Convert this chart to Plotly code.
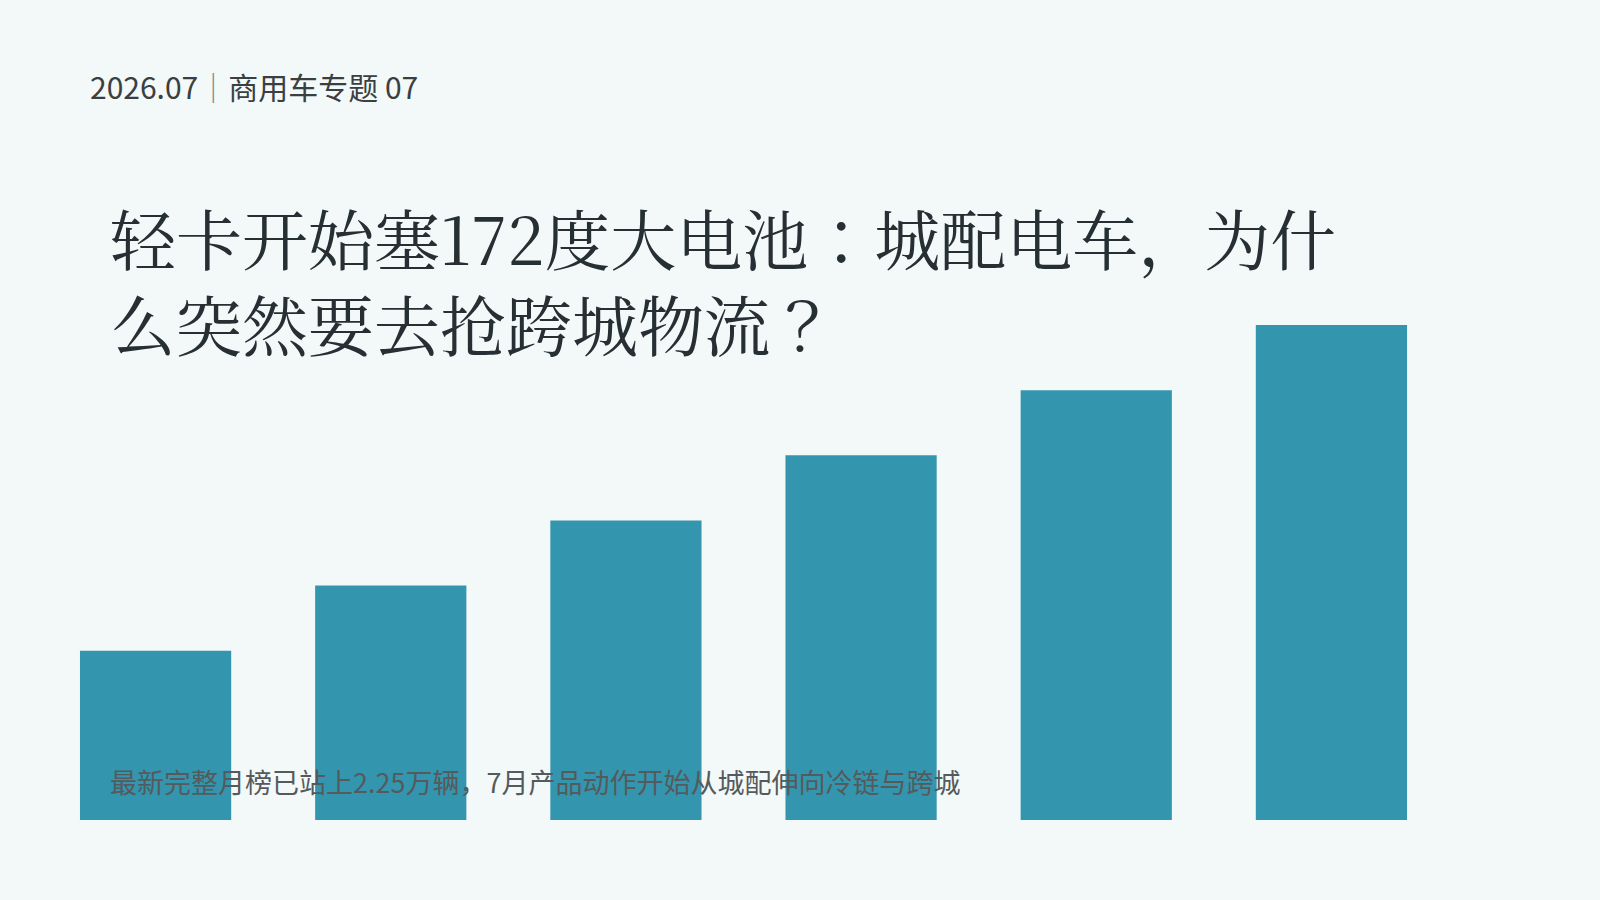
import plotly.graph_objects as go

# datos (ejes ocultos)
categorias = ["1月", "2月", "3月", "4月", "5月", "6月"]
valores = [2.6, 3.6, 4.6, 5.6, 6.6, 7.6]

cabecera = "2026.07<span style='color:#80888c'>｜</span>商用车专题 07"
titulo = "轻卡开始塞172度大电池：城配电车，为什<br>么突然要去抢跨城物流？"
subtitulo = "最新完整月榜已站上2.25万辆，7月产品动作开始从城配伸向冷链与跨城"

fondo = "#F3F8F8"
color_barra = "#3396AE"

fig = go.Figure()
fig.add_trace(go.Bar(x=categorias, y=valores, marker=dict(color=color_barra, line=dict(width=0)),
                     hoverinfo="skip"))

fig.update_layout(
    width=1600, height=900,
    paper_bgcolor=fondo, plot_bgcolor=fondo,
    margin=dict(l=38, r=151, t=299, b=80),
    bargap=0.357,
    showlegend=False,
    xaxis=dict(visible=False),
    yaxis=dict(visible=False, range=[0, 8]),
    font=dict(family="Noto Sans CJK SC, Noto Sans, sans-serif"),
)

# cabecera
fig.add_annotation(text=cabecera, xref="paper", yref="paper", x=0.0355, y=1.408,
                   xanchor="left", yanchor="middle", showarrow=False,
                   font=dict(size=30, color="#3a3f42", family="Noto Sans CJK SC, sans-serif"))
# titulo
fig.add_annotation(text=titulo, xref="paper", yref="paper", x=0.0496, y=1.037,
                   xanchor="left", yanchor="middle", showarrow=False, align="left",
                   font=dict(size=66, color="#263034",
                             family="Noto Serif CJK JP, Noto Serif CJK SC, serif"))
# subtitulo
fig.add_annotation(text=subtitulo, xref="paper", yref="paper", x=0.0496, y=0.073,
                   xanchor="left", yanchor="middle", showarrow=False,
                   font=dict(size=27, color="#555a5c", family="Noto Sans CJK SC, sans-serif"))

fig.write_html("out.html", config={"displayModeBar": False},
               post_script="document.body.style.margin='0';")
